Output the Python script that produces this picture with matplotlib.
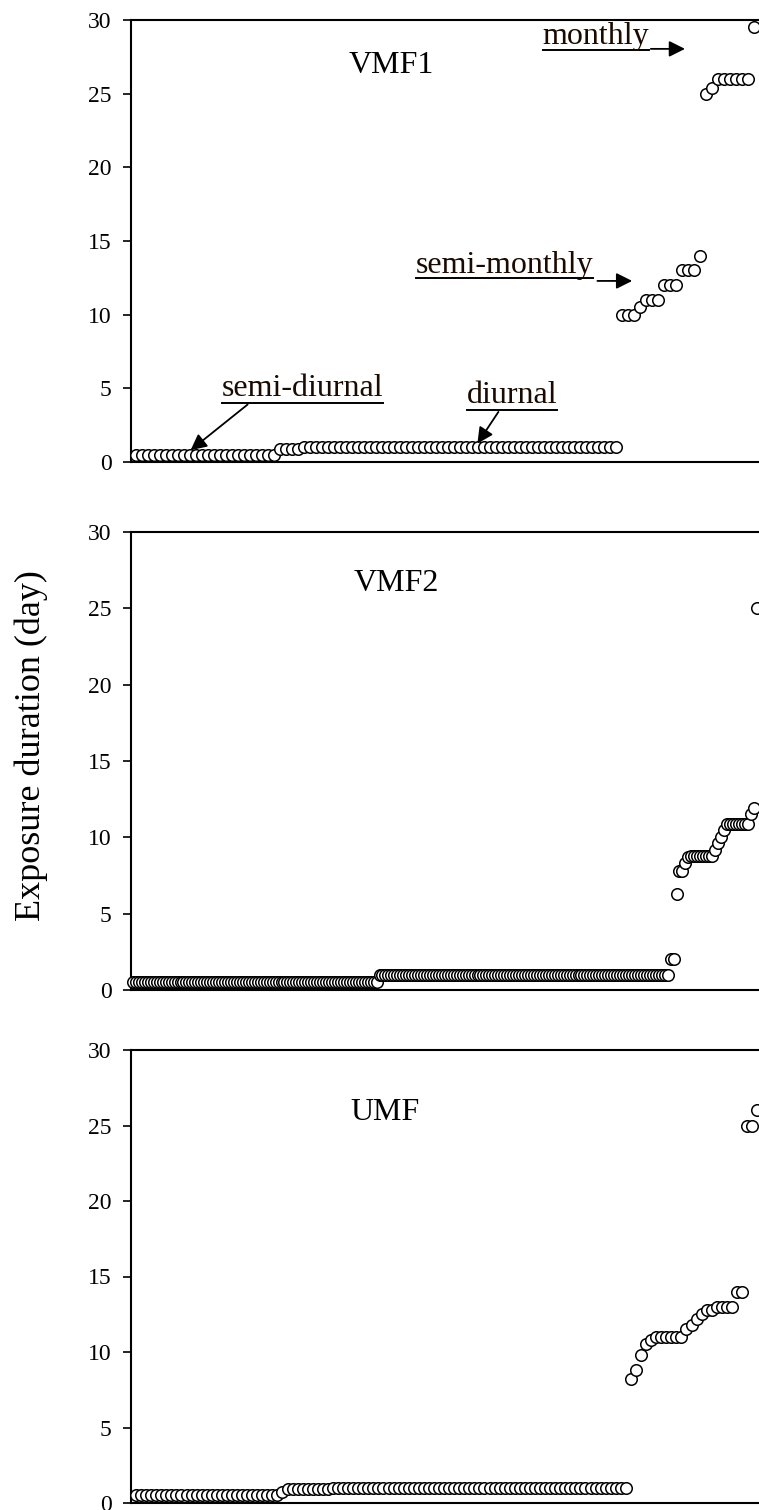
import numpy as np
import matplotlib
matplotlib.use("Agg")
import matplotlib.pyplot as plt
from matplotlib.lines import Line2D

plt.rcParams['font.family'] = ['Liberation Serif', 'DejaVu Serif']

# ---------------- data (value levels and how many cases sit at each level) ----
VMF1_VALUES = [0.5, 0.85, 1.0, 10.0, 10.5, 11.0, 12.0, 13.0, 14.0, 25.0, 25.4, 26.0, 29.5]
VMF1_COUNTS = [24, 4, 53, 3, 1, 3, 3, 3, 1, 1, 1, 6, 1]

VMF2_VALUES = [0.5, 1.0, 2.0, 6.3, 7.8, 8.3, 8.7, 8.8, 9.2, 9.6, 10.0, 10.5, 10.9, 11.5, 11.9, 25.0]
VMF2_COUNTS = [83, 98, 2, 1, 2, 1, 1, 8, 1, 1, 1, 1, 8, 1, 1, 1]

UMF_VALUES = [0.5, 0.75, 0.9, 1.0, 8.2, 8.8, 9.8, 10.5, 10.8, 11.0, 11.5, 11.8, 12.2,
              12.5, 12.8, 13.0, 14.0, 25.0, 26.0]
UMF_COUNTS = [29, 1, 9, 59, 1, 1, 1, 1, 1, 6, 1, 1, 1, 1, 2, 4, 2, 2, 1]

PANEL_NAMES = ["VMF1", "VMF2", "UMF"]
Y_TICKS = [0, 5, 10, 15, 20, 25, 30]
Y_LABEL = "Exposure duration (day)"

# ---------------- layout ----------------
W, H = 759, 1510
fig = plt.figure(figsize=(W / 100, H / 100), dpi=100)

LEFT_PX = 131
# (top px, bottom px, first-point px, spacing px, title x frac, title y frac)
layout = [
    (20, 462, 136, 6.0, 0.414, 0.898),
    (532, 990, 133, 2.97, 0.422, 0.888),
    (1050, 1503, 136, 5.05, 0.404, 0.863),
]
series = [(VMF1_VALUES, VMF1_COUNTS), (VMF2_VALUES, VMF2_COUNTS), (UMF_VALUES, UMF_COUNTS)]

axes = []
for (top, bot, x0, sp, tx, ty), (vals, cnts), name in zip(layout, series, PANEL_NAMES):
    ax = fig.add_axes([LEFT_PX / W, 1 - bot / H, (W - LEFT_PX) / W, (bot - top) / H])
    y = np.repeat(vals, cnts)
    x = np.arange(len(y))
    ax.plot(x, y, linestyle='none', marker='o', ms=8.3, mfc='white', mec='black',
            mew=1.1, clip_on=False, zorder=3)
    ax.set_xlim((LEFT_PX - x0) / sp, (W - x0) / sp)
    ax.set_ylim(0, 30)
    ax.set_yticks(Y_TICKS)
    ax.set_xticks([])
    ax.spines['right'].set_visible(False)
    for s in ['left', 'top', 'bottom']:
        ax.spines[s].set_linewidth(1.5)
    ax.tick_params(axis='y', direction='out', length=6, width=1.2, pad=8, labelsize=17)
    ax.text(tx, ty, name, transform=ax.transAxes, fontsize=23, ha='center', va='center')
    axes.append(ax)

fig.text(31 / W, 1 - 746 / H, Y_LABEL, rotation=90, ha='center', va='center', fontsize=26)

# ---------------- annotations on VMF1 ----------------
ax1 = axes[0]
# (label, text x, text baseline y, underline y, arrow start, arrow tip) in data units
annots = [
    ("monthly", 67.8, 28.35, 27.97, (85.8, 28.04), (91.5, 28.04)),
    ("semi-monthly", 46.6, 12.8, 12.49, (76.9, 12.29), (82.7, 12.29)),
    ("semi-diurnal", 14.3, 4.48, 4.0, (18.6, 3.9), (9.1, 0.8)),
    ("diurnal", 55.1, 4.0, 3.53, (60.4, 3.4), (56.9, 1.25)),
]
texts = []
for lab, tx, ty, uy, a0, a1 in annots:
    t = ax1.text(tx, ty, lab, fontsize=23, ha='left', va='baseline', color='#1a0a00')
    texts.append((t, uy))
    ax1.annotate('', xy=a1, xytext=a0,
                 arrowprops=dict(arrowstyle='-|>,head_length=0.6,head_width=0.3',
                                 color='black', lw=1.3, mutation_scale=16,
                                 shrinkA=0, shrinkB=0))

fig.canvas.draw()
renderer = fig.canvas.get_renderer()
inv = ax1.transData.inverted()
for t, uy in texts:
    bb = t.get_window_extent(renderer)
    xa, _ = inv.transform((bb.x0, bb.y0))
    xb, _ = inv.transform((bb.x1, bb.y0))
    ax1.add_line(Line2D([xa, xb], [uy, uy], color='black', lw=1.4, clip_on=False))

fig.savefig("out.png", dpi=100)
